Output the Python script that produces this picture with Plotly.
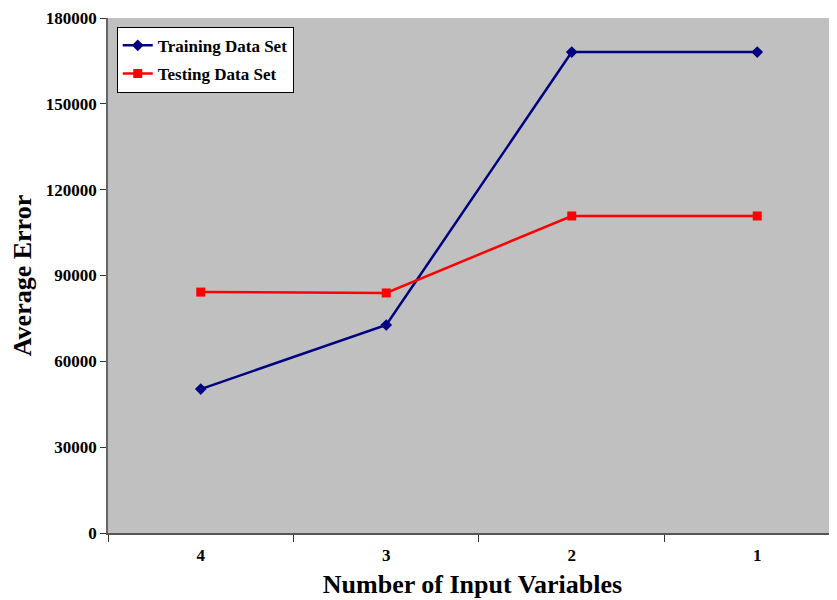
import plotly.graph_objects as go

categories = ["4", "3", "2", "1"]
training = [50300, 72700, 168100, 168100]
testing = [84200, 83900, 110800, 110800]
y_ticks = [0, 30000, 60000, 90000, 120000, 150000, 180000]

FONT = "Liberation Serif"

fig = go.Figure()
fig.add_trace(go.Scatter(
    x=categories, y=training, mode="lines+markers", name="Training Data Set",
    legendgroup="a",
    line=dict(color="#000080", width=2.5),
    marker=dict(symbol="diamond", size=9, color="#000080"),
))
fig.add_trace(go.Scatter(
    x=categories, y=testing, mode="lines+markers", name="Testing Data Set",
    legendgroup="b",
    line=dict(color="#FF0000", width=2.5),
    marker=dict(symbol="square", size=9, color="#FF0000"),
))

fig.update_layout(
    width=829, height=592,
    margin=dict(l=100, r=0, t=10, b=67),
    paper_bgcolor="white",
    plot_bgcolor="#C0C0C0",
    font=dict(family=FONT, color="black", weight="bold"),
    legend=dict(
        x=0.012, y=0.983, xanchor="left", yanchor="top",
        bgcolor="white", bordercolor="black", borderwidth=1,
        font=dict(family=FONT, size=17, color="black", weight="bold"),
        tracegroupgap=3, itemwidth=30,
    ),
    showlegend=True,
)

fig.update_xaxes(
    type="category", categoryorder="array", categoryarray=categories,
    range=[-0.5, 3.43],
    showgrid=False, zeroline=False,
    showline=True, linecolor="#555555", linewidth=2,
    ticks="outside", ticklen=7, tickcolor="#333333", tickwidth=1,
    tickson="boundaries", ticklabelstandoff=6,
    tickfont=dict(family=FONT, size=17, color="black", weight="bold"),
    title=dict(text="Number of Input Variables", standoff=10,
               font=dict(family=FONT, size=26, color="black", weight="bold")),
)
fig.update_yaxes(
    range=[0, 180000], tickvals=y_ticks, ticktext=[str(v) for v in y_ticks],
    showgrid=False, zeroline=False,
    showline=True, linecolor="#666666", linewidth=1.5,
    ticks="outside", ticklen=6, tickcolor="#333333",
    tickfont=dict(family=FONT, size=17, color="black", weight="bold"),
    title=dict(text="Average Error", standoff=10,
               font=dict(family=FONT, size=26, color="black", weight="bold")),
)

fig.write_html("out.html")
